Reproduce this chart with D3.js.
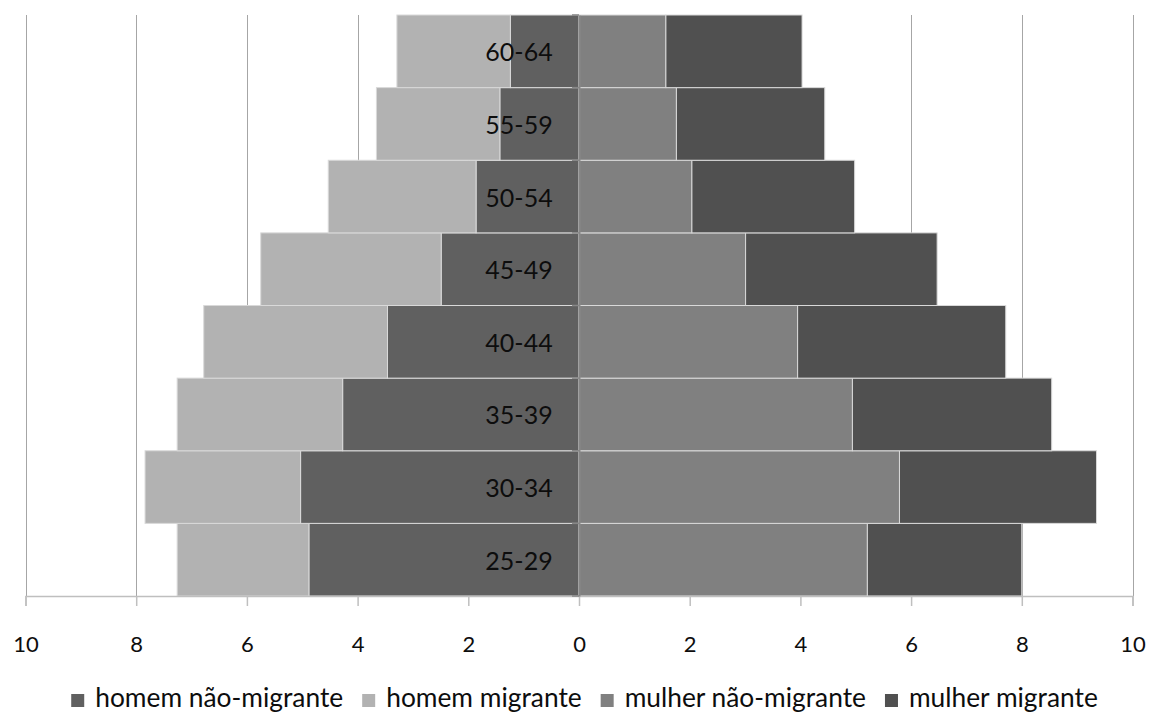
<!DOCTYPE html>
<html>
<head>
<meta charset="utf-8">
<script src="https://cdn.jsdelivr.net/npm/d3@7/dist/d3.min.js"></script>
<style>
  html, body { margin: 0; padding: 0; background: #fff; }
  svg { display: block; }
  text { font-family: Lato, "Open Sans", sans-serif; }
</style>
</head>
<body>
<svg id="chart" width="1151" height="713"></svg>
<script>
// ---- data ----
const categories = ["25-29", "30-34", "35-39", "40-44", "45-49", "50-54", "55-59", "60-64"];
const homemNaoMigrante  = [4.88, 5.03, 4.27, 3.46, 2.49, 1.86, 1.43, 1.24];
const homemMigrante     = [2.38, 2.81, 2.99, 3.32, 3.26, 2.67, 2.23, 2.05];
const mulherNaoMigrante = [5.21, 5.79, 4.94, 3.95, 3.01, 2.04, 1.76, 1.57];
const mulherMigrante    = [2.79, 3.56, 3.60, 3.76, 3.46, 2.94, 2.68, 2.46];
const tickValues = [-10, -8, -6, -4, -2, 0, 2, 4, 6, 8, 10];
const tickLabels = ["10", "8", "6", "4", "2", "0", "2", "4", "6", "8", "10"];
const seriesNames = ["homem não-migrante", "homem migrante", "mulher não-migrante", "mulher migrante"];
const seriesColors = ["#606060", "#b2b2b2", "#808080", "#505050"];

// ---- layout ----
const svg = d3.select("#chart");
const plot = { left: 25.5, right: 1132.5, top: 15, bottom: 596 };

const x = d3.scaleLinear().domain([-10, 10]).range([plot.left, plot.right]);
const y = d3.scaleBand().domain(categories.slice().reverse()).range([plot.top, plot.bottom]).padding(0);

// gridlines
svg.append("g").selectAll("line")
  .data(tickValues.filter(v => v !== 0))
  .join("line")
  .attr("x1", d => Math.round(x(d)) + 0.5).attr("x2", d => Math.round(x(d)) + 0.5)
  .attr("y1", plot.top).attr("y2", plot.bottom)
  .attr("stroke", "#a6a6a6").attr("stroke-width", 1);

// stacked bars
const rows = categories.map((c, i) => ({
  cat: c,
  segs: [
    { s: 0, x0: -homemNaoMigrante[i], x1: 0 },
    { s: 1, x0: -(homemNaoMigrante[i] + homemMigrante[i]), x1: -homemNaoMigrante[i] },
    { s: 2, x0: 0, x1: mulherNaoMigrante[i] },
    { s: 3, x0: mulherNaoMigrante[i], x1: mulherNaoMigrante[i] + mulherMigrante[i] }
  ]
}));

const barG = svg.append("g");
rows.forEach(r => {
  barG.selectAll(null)
    .data(r.segs)
    .join("rect")
    .attr("x", d => x(d.x0))
    .attr("y", y(r.cat))
    .attr("width", d => x(d.x1) - x(d.x0))
    .attr("height", y.bandwidth())
    .attr("fill", d => seriesColors[d.s])
    .attr("stroke", "#d9d9d9")
    .attr("stroke-width", 1);
});

// bottom value axis
const xAxis = d3.axisBottom(x).tickValues(tickValues)
  .tickFormat((d, i) => tickLabels[i]).tickSize(10).tickPadding(30);
const gx = svg.append("g").attr("transform", `translate(0,${plot.bottom})`).call(xAxis);
gx.select(".domain").attr("stroke", "#bfbfbf").attr("stroke-width", 1.5);
gx.selectAll(".tick line").attr("stroke", "#bfbfbf").attr("stroke-width", 1.5);
gx.selectAll(".tick text")
  .attr("font-family", "Lato, 'Open Sans', sans-serif")
  .attr("font-size", 22).attr("fill", "#0d0d0d")
  .attr("dy", "0.71em");

// category axis at zero
const yAxis = d3.axisLeft(y).tickSize(0).tickFormat("");
const gy = svg.append("g").attr("transform", `translate(${x(0)},0)`).call(yAxis);
gy.select(".domain").attr("stroke", "#878787").attr("stroke-width", 2);
// boundary tick marks
svg.append("g").selectAll("line")
  .data(categories.slice().reverse().map(c => y(c)).concat([plot.bottom]))
  .join("line")
  .attr("x1", x(0) - 7).attr("x2", x(0))
  .attr("y1", d => d).attr("y2", d => d)
  .attr("stroke", "#878787").attr("stroke-width", 1.5);

// category labels
svg.append("g").selectAll("text")
  .data(categories)
  .join("text")
  .attr("x", x(0) - 60)
  .attr("y", d => y(d) + y.bandwidth() / 2)
  .attr("text-anchor", "middle")
  .attr("dominant-baseline", "central")
  .attr("font-size", 25)
  .attr("fill", "#0d0d0d")
  .text(d => d);

// legend
const legend = svg.append("g");
const items = legend.selectAll("g").data(seriesNames).join("g");
items.append("rect").attr("width", 13).attr("height", 13)
  .attr("fill", (d, i) => seriesColors[i]);
const lt = items.append("text").attr("font-size", 26).attr("fill", "#0d0d0d")
  .attr("x", 24).attr("y", 13).text(d => d);
// fit font size so first label is ~248px
const w0 = lt.nodes()[0].getComputedTextLength();
const fs = 26 * 248 / w0;
lt.attr("font-size", fs);
let cx = 0;
const widths = lt.nodes().map(n => n.getComputedTextLength());
const pos = [];
widths.forEach((w, i) => { pos.push(cx); cx += 24 + w + 19; });
const total = cx - 19;
const startX = 584.5 - total / 2;
items.attr("transform", (d, i) => `translate(${startX + pos[i]},694)`);
</script>
</body>
</html>
